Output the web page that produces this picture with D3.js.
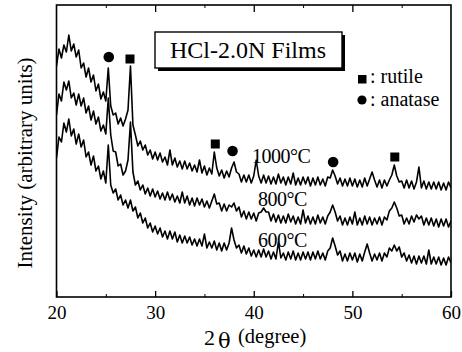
<!DOCTYPE html>
<html><head><meta charset="utf-8">
<script src="https://cdn.jsdelivr.net/npm/d3@7"></script>
<style>
html,body{margin:0;padding:0;background:#fff;}
svg{display:block;}
text{font-family:"Liberation Serif","Times New Roman",serif;fill:#000;}
</style></head>
<body>
<svg id="chart" width="462" height="352"></svg>
<script>
// 2θ scan positions (degree)
const twoTheta = [20,20.25,20.5,20.75,21,21.25,21.5,21.75,22,22.25,22.5,22.75,23,23.25,23.5,23.75,24,24.25,24.5,24.75,25,25.25,25.5,25.75,26,26.25,26.5,26.75,27,27.25,27.5,27.75,28,28.25,28.5,28.75,29,29.25,29.5,29.75,30,30.25,30.5,30.75,31,31.25,31.5,31.75,32,32.25,32.5,32.75,33,33.25,33.5,33.75,34,34.25,34.5,34.75,35,35.25,35.5,35.75,36,36.25,36.5,36.75,37,37.25,37.5,37.75,38,38.25,38.5,38.75,39,39.25,39.5,39.75,40,40.25,40.5,40.75,41,41.25,41.5,41.75,42,42.25,42.5,42.75,43,43.25,43.5,43.75,44,44.25,44.5,44.75,45,45.25,45.5,45.75,46,46.25,46.5,46.75,47,47.25,47.5,47.75,48,48.25,48.5,48.75,49,49.25,49.5,49.75,50,50.25,50.5,50.75,51,51.25,51.5,51.75,52,52.25,52.5,52.75,53,53.25,53.5,53.75,54,54.25,54.5,54.75,55,55.25,55.5,55.75,56,56.25,56.5,56.75,57,57.25,57.5,57.75,58,58.25,58.5,58.75,59,59.25,59.5,59.75,60];

// Intensities (arbitrary units, offset traces)
const i1000 = [234,251,242,255,248,265,249,256,243,250,232,237,223,232,218,225,209,216,201,208,199,
232,194,185,187,176,182,174,181,190,234,175,165,154,159,150,155,145,150,141,148,
140,147,138,143,135,150,135,142,133,139,131,139,131,137,129,135,128,140,127,134,
125,132,126,148,132,124,130,122,129,123,132,138,128,126,118,125,118,125,117,124,
140,124,117,125,117,124,116,123,116,126,117,123,115,123,116,127,115,122,115,123,
116,123,114,122,115,123,115,121,114,123,122,130,124,116,122,114,121,114,122,114,
121,113,120,113,122,114,121,128,120,113,120,112,120,114,120,125,135,124,118,119,
112,120,112,119,111,118,133,112,119,111,118,111,118,111,118,110,117,110,118,112];

const i800 = [185,206,199,218,210,219,202,207,195,206,194,202,187,194,180,189,176,183,169,175,166,
202,165,149,148,134,136,125,129,140,178,128,115,119,110,115,106,112,104,111,103,
109,101,107,100,108,100,106,98,104,97,108,97,104,95,102,94,102,95,101,93,
99,92,99,106,96,97,89,96,89,95,93,97,89,93,83,89,81,88,81,87,
79,87,88,92,88,88,79,86,78,85,77,84,77,86,78,84,76,83,76,90,
77,84,76,83,76,85,77,83,76,84,88,95,88,79,84,75,82,75,83,76,
88,75,82,75,84,76,83,75,82,76,83,75,83,80,89,92,98,92,84,85,
76,82,76,84,78,85,81,84,75,82,75,82,74,81,73,81,74,81,73,79];

const i600 = [142,163,158,177,168,181,164,171,156,166,153,160,143,148,135,144,129,134,121,129,117,
155,115,107,111,100,105,95,100,92,100,89,93,82,87,77,82,72,77,68,74,
66,72,63,69,61,69,61,68,58,65,57,64,57,63,55,61,54,61,54,66,
52,58,52,59,50,57,49,57,50,57,72,60,52,55,47,54,46,52,44,50,
43,50,43,51,43,49,41,48,41,58,42,47,40,48,41,49,40,47,40,48,
41,48,40,48,41,49,41,47,40,49,52,62,54,45,49,39,46,39,47,40,
47,38,46,39,48,56,47,39,46,40,47,39,47,43,52,49,55,49,53,43,
47,39,45,37,44,36,44,37,44,36,50,36,43,36,43,35,42,35,43,37];

const seriesNames = ["1000\u00B0C","800\u00B0C","600\u00B0C"];
const xTicks = [20,30,40,50,60];
const xMinorTicks = [25,35,45,55];

// phase markers above the peaks
const markerTheta = [25.3, 27.45, 36.1, 37.85, 48.05, 54.3];
const markerLevel = [243, 241, 156, 149, 138, 143];
const markerPhase = ["anatase","rutile","rutile","anatase","anatase","rutile"];

const svg = d3.select("#chart");
const x = d3.scaleLinear().domain([20,60]).range([56.5,451]);
const y = d3.scaleLinear().domain([3,295]).range([297,5]);

svg.append("defs").append("clipPath").attr("id","clip")
  .append("rect").attr("x",x(20)).attr("y",y(295)).attr("width",x(60)-x(20)).attr("height",y(3)-y(295));

// traces
const line = d3.line().x(d=>x(d[0])).y(d=>y(d[1]));
const series = [i1000,i800,i600];
svg.append("g").attr("clip-path","url(#clip)")
  .selectAll("path").data(series).join("path")
  .attr("d", s => line(twoTheta.map((t,i)=>[t,s[i]])))
  .attr("fill","none").attr("stroke","#000").attr("stroke-width",1.6).attr("stroke-linejoin","round");

// frame
svg.append("rect").attr("x",x(20)).attr("y",y(295)).attr("width",x(60)-x(20)).attr("height",y(3)-y(295))
  .attr("fill","none").attr("stroke","#000").attr("stroke-width",1.6);

// axes
const gB = svg.append("g").attr("transform",`translate(0,${y(3)})`)
  .call(d3.axisBottom(x).tickValues(xTicks).tickSizeInner(-6).tickSizeOuter(0).tickPadding(9).tickFormat(d3.format("d")));
gB.select(".domain").remove();
gB.selectAll("line").attr("stroke","#000").attr("stroke-width",1.3);
gB.selectAll("text").style("font-size","19px").style("font-family","Liberation Serif");
const gBm = svg.append("g").attr("transform",`translate(0,${y(3)})`)
  .call(d3.axisBottom(x).tickValues(xMinorTicks).tickSize(-3).tickFormat(""));
gBm.select(".domain").remove();
const gT = svg.append("g").attr("transform",`translate(0,${y(295)})`)
  .call(d3.axisTop(x).tickValues([30,40,50]).tickSize(-7).tickFormat(""));
gT.select(".domain").remove();
gT.selectAll("line").attr("stroke-width",1.3);
const gTm = svg.append("g").attr("transform",`translate(0,${y(295)})`)
  .call(d3.axisTop(x).tickValues(xMinorTicks).tickSize(-3).tickFormat(""));
gTm.select(".domain").remove();

// axis titles
svg.append("text").attr("transform","translate(32,163) rotate(-90)")
  .attr("text-anchor","middle").style("font-size","21px").text("Intensity (arbitrary units)");
const xt = svg.append("g");
xt.append("text").attr("x",204).attr("y",345).style("font-size","22px").text("2");
xt.append("text").attr("x",218).attr("y",348).style("font-size","21px").style("font-family","DejaVu Serif").text("\u03B8");
xt.append("text").attr("x",238).attr("y",343).style("font-size","20.5px").text("(degree)");

// markers
const mg = svg.append("g");
markerTheta.forEach((t,i)=>{
  if(markerPhase[i]==="rutile"){
    mg.append("rect").attr("x",x(t)-4.5).attr("y",y(markerLevel[i])-4.5).attr("width",9).attr("height",9).attr("fill","#000");
  } else {
    mg.append("circle").attr("cx",x(t)).attr("cy",y(markerLevel[i])).attr("r",5.3).attr("fill","#000");
  }
});

// title box with shadow
svg.append("rect").attr("x",158).attr("y",35).attr("width",187).attr("height",36).attr("fill","#000");
svg.append("rect").attr("x",155).attr("y",32).attr("width",187).attr("height",36).attr("fill","#fff").attr("stroke","#000").attr("stroke-width",1.4);
svg.append("text").attr("x",248).attr("y",58).attr("text-anchor","middle").style("font-size","24px").text("HCl-2.0N Films");

// legend
svg.append("rect").attr("x",358).attr("y",75).attr("width",8.5).attr("height",8.5).attr("fill","#000");
svg.append("text").attr("x",370).attr("y",83).style("font-size","20px").text(": rutile");
svg.append("circle").attr("cx",362).attr("cy",100).attr("r",4.6).attr("fill","#000");
svg.append("text").attr("x",370).attr("y",106).style("font-size","20px").text(": anatase");

// temperature labels
const labelPos = [[252,163],[258,206],[258,247]];
svg.append("g").selectAll("text").data(seriesNames).join("text")
  .attr("x",(d,i)=>labelPos[i][0]).attr("y",(d,i)=>labelPos[i][1])
  .style("font-size","20px").style("letter-spacing","-0.5px").text(d=>d);
</script>
</body></html>
